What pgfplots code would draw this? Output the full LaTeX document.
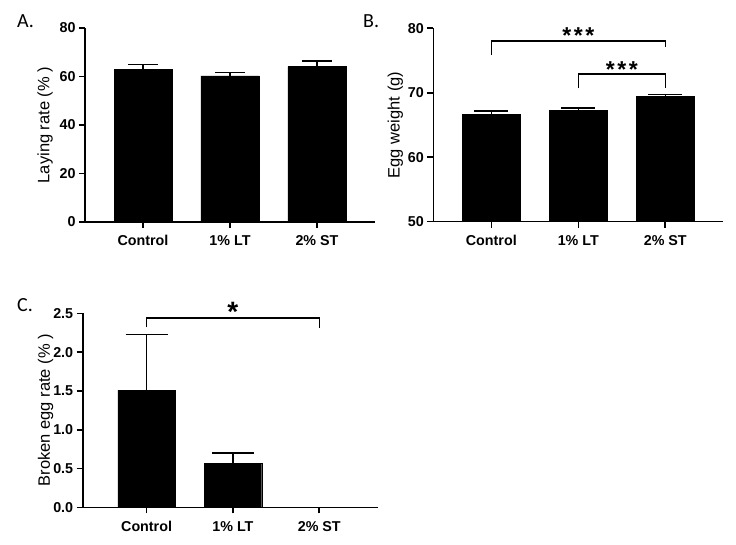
\documentclass[border=0pt]{standalone}
\usepackage{pgfplots}
\pgfplotsset{compat=1.18}
\usepackage{fontspec}
\setmainfont{Liberation Sans}
\newfontfamily\letterfont{Carlito}

\pgfplotsset{
  panel/.style={
    scale only axis, axis lines=left, axis line style={-, line width=1.6pt},
    tick style={line width=1.6pt, black}, tick align=outside, major tick length=6pt,
    xtick={0,1,2}, xticklabels={Control, 1\% LT, 2\% ST},
    xticklabel style={font=\fontsize{14.3}{16}\selectfont\bfseries, text height=10.3pt, text depth=0pt, yshift=-4pt},
    yticklabel style={font=\fontsize{14.3}{16}\selectfont\bfseries},
    /pgf/number format/assume math mode=true,
    every axis y label/.style={at={([xshift=-40pt]axis description cs:0,0.5)}, rotate=90, anchor=center, font=\fontsize{16.5}{18}\selectfont},
    ybar, bar width=0.667,
    clip mode=individual,
    anchor=south west,
  },
  bars/.style={fill=black, draw=black, error bars/.cd, y dir=plus, y explicit,
    error bar style={line width=1.5pt}, error mark options={rotate=90, line width=1.5pt, mark size=#1}},
}

\begin{document}
\begin{tikzpicture}
\useasboundingbox (0,0) rectangle (736pt,544pt);

% Panel A
\begin{axis}[panel, at={(85pt,322pt)}, width=290pt, height=194pt,
  xmin=-0.667, xmax=2.667, ymin=0, ymax=80, ytick={0,20,40,60,80},
  ylabel={Laying rate (\% )}]
\addplot[bars=15pt] coordinates {(0,63.0) +- (0,2.0) (1,60.3) +- (0,1.4) (2,64.1) +- (0,2.3)};
\end{axis}

% Panel B
\begin{axis}[panel, at={(433.3pt,322.3pt)}, width=290pt, height=193.4pt,
  xmin=-0.667, xmax=2.667, ymin=50, ymax=80, ytick={50,60,70,80},
  ylabel={Egg weight (g)}, every axis y label/.append style={at={([xshift=-38pt]axis description cs:0,0.5)}}]
\addplot[bars=17pt] coordinates {(0,66.7) +- (0,0.5) (1,67.3) +- (0,0.3) (2,69.4) +- (0,0.3)};
\draw[line width=1.4pt] (axis cs:0,75.85) -- (axis cs:0,78.0) -- (axis cs:2,78.0) -- (axis cs:2,77.15);
\draw[line width=1.4pt] (axis cs:1,70.7) -- (axis cs:1,72.9) -- (axis cs:2,72.9) -- (axis cs:2,70.7);
\node[anchor=base, font=\fontsize{23}{26}\selectfont\bfseries, inner sep=0pt] at (axis cs:1,77.6) {*\kern2.5pt*\kern2.5pt*};
\node[anchor=base, font=\fontsize{23}{26}\selectfont\bfseries, inner sep=0pt] at (axis cs:1.5,72.4) {*\kern2.5pt*\kern2.5pt*};
\end{axis}

% Panel C
\begin{axis}[panel, at={(82.7pt,36.7pt)}, width=295.3pt, height=194pt,
  xmin=-0.74, xmax=2.68, ymin=0, ymax=2.5, ytick={0,0.5,1.0,1.5,2.0,2.5},
  yticklabel style={/pgf/number format/fixed, /pgf/number format/fixed zerofill, /pgf/number format/precision=1},
  ylabel={Broken egg rate (\% )}, every axis y label/.append style={at={([xshift=-37pt]axis description cs:0,0.5)}}]
\addplot[bars=21pt] coordinates {(0,1.51) +- (0,0.72) (1,0.567) +- (0,0.135)};
\draw[line width=1.4pt] (axis cs:0,2.32) -- (axis cs:0,2.44) -- (axis cs:2,2.44) -- (axis cs:2,2.31);
\node[anchor=base, font=\fontsize{28}{30}\selectfont\bfseries, inner sep=0pt] at (axis cs:1,2.39) {*};
\end{axis}

\node[anchor=base west, font=\letterfont\fontsize{20}{22}\selectfont, inner sep=0pt] at (17pt,516pt) {A.};
\node[anchor=base west, font=\letterfont\fontsize{20}{22}\selectfont, inner sep=0pt] at (363pt,516pt) {B.};
\node[anchor=base west, font=\letterfont\fontsize{20}{22}\selectfont, inner sep=0pt] at (17pt,232pt) {C.};
\end{tikzpicture}
\end{document}
